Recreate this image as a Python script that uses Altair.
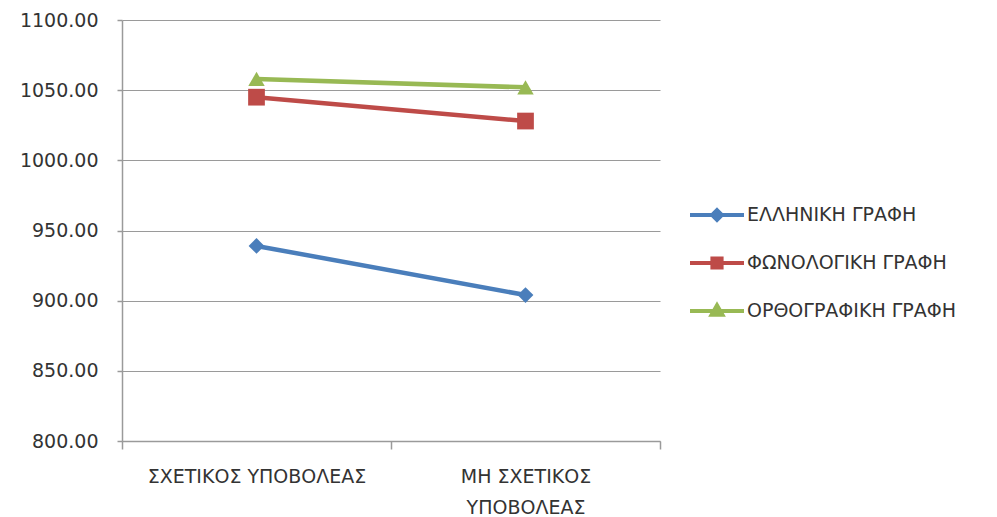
import altair as alt
import pandas as pd

# Categories on the x axis and the three series
categories = ["ΣΧΕΤΙΚΟΣ ΥΠΟΒΟΛΕΑΣ", "ΜΗ ΣΧΕΤΙΚΟΣ ΥΠΟΒΟΛΕΑΣ"]
series_names = ["ΕΛΛΗΝΙΚΗ ΓΡΑΦΗ", "ΦΩΝΟΛΟΓΙΚΗ ΓΡΑΦΗ", "ΟΡΘΟΓΡΑΦΙΚΗ ΓΡΑΦΗ"]
greek_values = [939.0, 904.0]
phonological_values = [1045.0, 1028.0]
orthographic_values = [1058.0, 1052.0]
y_ticks = [800, 850, 900, 950, 1000, 1050, 1100]

colors = ["#4A7EBB", "#BE4B48", "#98B954"]
marker_shapes = ["diamond", "square", "triangle-up"]
marker_sizes = [250, 280, 270]

# Legend symbols: a line segment with the series marker in the middle
legend_paths = [
    "M-1,0L1,0M0,-0.18L0.18,0L0,0.18L-0.18,0Z",
    "M-1,0L1,0M-0.17,-0.17L0.17,-0.17L0.17,0.17L-0.17,0.17Z",
    "M-1,0L1,0M-0.2,0.14L0,-0.21L0.2,0.14Z",
]

rows = []
for name, vals in zip(series_names, [greek_values, phonological_values, orthographic_values]):
    for cat, v in zip(categories, vals):
        rows.append({"category": cat, "series": name, "value": v})
df = pd.DataFrame(rows)

FONT = "DejaVu Sans"
TEXT = "#333333"
GRID = "#9a9a9a"
FS = 19

x_enc = alt.X(
    "category:N",
    bandPosition=0.5,
    sort=categories,
    scale=alt.Scale(type="band", domain=categories, paddingInner=0, paddingOuter=0),
    axis=alt.Axis(
        title=None,
        labelAngle=0,
        tickBand="extent",
        tickSize=8,
        tickColor=GRID,
        domainColor=GRID,
        domainWidth=1.5,
        tickWidth=1.5,
        grid=False,
        labelFont=FONT,
        labelFontSize=FS,
        labelColor=TEXT,
        labelPadding=18,
        labelLineHeight=31,
        labelLimit=400,
        labelExpr="datum.label == 'ΜΗ ΣΧΕΤΙΚΟΣ ΥΠΟΒΟΛΕΑΣ' ? ['ΜΗ ΣΧΕΤΙΚΟΣ', 'ΥΠΟΒΟΛΕΑΣ'] : datum.label",
    ),
)

y_enc = alt.Y(
    "value:Q",
    scale=alt.Scale(domain=[800, 1100], nice=False, zero=False),
    axis=alt.Axis(
        title=None,
        values=y_ticks,
        format=".2f",
        grid=True,
        gridColor=GRID,
        gridWidth=1.2,
        tickSize=5,
        tickColor=GRID,
        tickWidth=1.5,
        domainColor=GRID,
        domainWidth=1.5,
        labelFont=FONT,
        labelFontSize=FS,
        labelColor=TEXT,
        labelPadding=19,
    ),
)

color_scale = alt.Scale(domain=series_names, range=colors)
series_legend = alt.Legend(
    title=None,
    orient="none",
    legendX=566,
    legendY=166,
    symbolSize=2916,
    symbolStrokeWidth=4,
    symbolOpacity=1,
    labelFont=FONT,
    labelFontSize=FS,
    labelColor=TEXT,
    labelOffset=1,
    labelLimit=400,
)

base = alt.Chart(df)

# Zero-size points that only carry the legend (line + marker symbols)
legend_layer = base.mark_point(filled=True, size=0).encode(
    x=x_enc,
    y=y_enc,
    color=alt.Color("series:N", scale=color_scale, legend=series_legend),
    stroke=alt.Stroke("series:N", scale=color_scale, legend=series_legend),
    shape=alt.Shape(
        "series:N",
        scale=alt.Scale(domain=series_names, range=legend_paths),
        legend=series_legend,
    ),
)

lines = base.mark_line(strokeWidth=4.5).encode(
    x=x_enc,
    y=y_enc,
    color=alt.Color("series:N", scale=color_scale),
    detail="series:N",
)

point_layers = []
for name, shape, size in zip(series_names, marker_shapes, marker_sizes):
    point_layers.append(
        base.transform_filter(alt.datum.series == name)
        .mark_point(filled=True, shape=shape, size=size, opacity=1)
        .encode(
            x=x_enc,
            y=y_enc,
            color=alt.Color("series:N", scale=color_scale),
        )
    )

chart = (
    alt.layer(legend_layer, lines, *point_layers)
    .properties(
        width=538,
        height=421,
        autosize=alt.AutoSizeParams(type="none"),
        padding={"left": 122, "top": 20, "right": 337, "bottom": 76},
        background="white",
    )
    .configure_view(stroke=None)
    .configure_legend(rowPadding=6)
)

chart.save("out.html", embed_options={"renderer": "svg", "actions": False})
